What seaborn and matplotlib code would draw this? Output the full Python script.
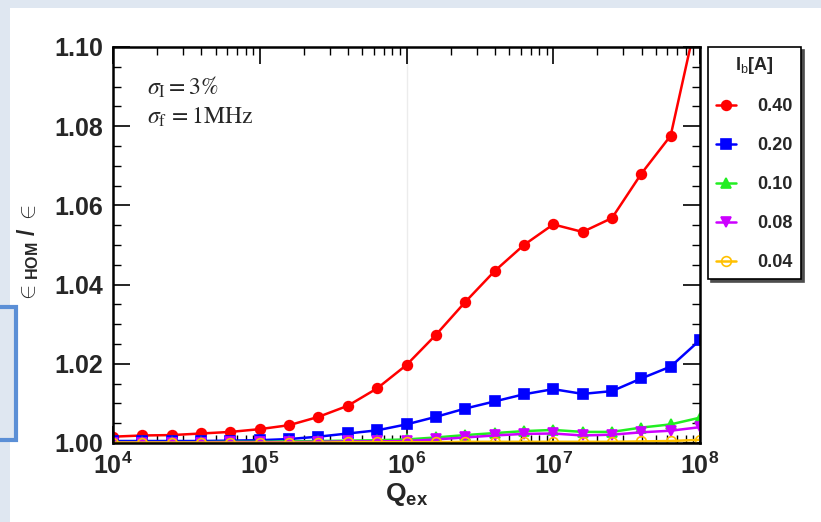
import numpy as np
import pandas as pd
import seaborn as sns
import matplotlib.pyplot as plt
from matplotlib.patches import Rectangle
from matplotlib.ticker import FuncFormatter, MultipleLocator, LogLocator, FixedLocator

# log10 of Q_ex at each point
q_exp = [4.0, 4.2, 4.4, 4.6, 4.8, 5.0, 5.2, 5.4, 5.6, 5.8, 6.0,
         6.2, 6.4, 6.6, 6.8, 7.0, 7.2, 7.4, 7.6, 7.8, 8.0]

eps_040 = [1.0016, 1.0019, 1.0020, 1.0024, 1.0028, 1.0035, 1.0045, 1.0066, 1.0094, 1.0138, 1.0197,
           1.0273, 1.0356, 1.0434, 1.0500, 1.0552, 1.0533, 1.0568, 1.0680, 1.0776, 1.1110]
eps_020 = [1.0005, 1.0005, 1.0005, 1.0005, 1.0006, 1.0007, 1.0010, 1.0016, 1.0024, 1.0032, 1.0047,
           1.0066, 1.0087, 1.0105, 1.0123, 1.0136, 1.0124, 1.0131, 1.0163, 1.0193, 1.0260]
eps_010 = [1.0002, 1.0002, 1.0002, 1.0002, 1.0003, 1.0003, 1.0004, 1.0005, 1.0006, 1.0007, 1.0009,
           1.0014, 1.0020, 1.0025, 1.0030, 1.0033, 1.0028, 1.0028, 1.0039, 1.0047, 1.0064]
eps_008 = [1.0001, 1.0001, 1.0001, 1.0001, 1.0002, 1.0002, 1.0002, 1.0003, 1.0004, 1.0004, 1.0005,
           1.0009, 1.0014, 1.0019, 1.0023, 1.0024, 1.0019, 1.0021, 1.0027, 1.0031, 1.0040]
eps_004 = [1.0001, 1.0001, 1.0001, 1.0001, 1.0001, 1.0001, 1.0001, 1.0001, 1.0002, 1.0002, 1.0002,
           1.0002, 1.0003, 1.0003, 1.0003, 1.0003, 1.0003, 1.0003, 1.0004, 1.0005, 1.0008]

currents = ["0.40", "0.20", "0.10", "0.08", "0.04"]
colors = ["#ff0000", "#0000ff", "#22ee22", "#cc00ff", "#ffc000"]
markers = ["o", "s", "^", "v", "o"]
filled = [True, True, True, True, False]

y_ticks = [1.00, 1.02, 1.04, 1.06, 1.08, 1.10]

q = [10 ** e for e in q_exp]
series = [eps_040, eps_020, eps_010, eps_008, eps_004]

sns.set_theme(style="ticks")
plt.rcParams["font.family"] = ["Liberation Sans", "DejaVu Sans"]
plt.rcParams["mathtext.fontset"] = "custom"
plt.rcParams["mathtext.rm"] = "Liberation Sans"
plt.rcParams["mathtext.bf"] = "Liberation Sans:bold"
plt.rcParams["mathtext.it"] = "Liberation Sans:italic"

fig = plt.figure(figsize=(8.21, 5.22), dpi=100)
bg = "#dfe7f1"
fig.patch.set_facecolor(bg)
fig.add_artist(Rectangle((10 / 821, 0), 1, 1 - 8 / 522, transform=fig.transFigure,
                         facecolor="white", edgecolor="none", zorder=0))
fig.add_artist(Rectangle((-0.02, 1 - 440 / 522), 16 / 821 + 0.02, 133 / 522,
                         transform=fig.transFigure, facecolor=bg, edgecolor="#5b8fd6",
                         lw=3, zorder=1))

ax = fig.add_axes([113 / 821, 1 - 443 / 522, 587 / 821, 396 / 522])
ax.set_facecolor("white")
ax.axvline(1e6, color="#ececec", lw=1, zorder=0)

for lab, vals, c, m, f in zip(currents, series, colors, markers, filled):
    df = pd.DataFrame({"Q": q, "eps": vals})
    sns.lineplot(data=df, x="Q", y="eps", ax=ax, color=c, marker=m, markersize=7,
                 markerfacecolor=c if f else "none", markeredgecolor=c,
                 markeredgewidth=1.2, linewidth=1.8, label=lab, clip_on=True)

ax.set_xscale("log")
ax.set_xlim(1e4, 1e8)
ax.set_ylim(1.0, 1.10)
ax.xaxis.set_major_locator(LogLocator(base=10, numticks=10))
ax.xaxis.set_minor_locator(LogLocator(base=10, subs=np.arange(2, 10), numticks=50))
ax.xaxis.set_major_formatter(FuncFormatter(lambda v, p: r"$\mathbf{10^{%d}}$" % round(np.log10(v))))
ax.yaxis.set_major_locator(FixedLocator(y_ticks))
ax.yaxis.set_minor_locator(MultipleLocator(0.005))
ax.yaxis.set_major_formatter(FuncFormatter(lambda v, p: "%.2f" % v))

ax.tick_params(which="both", direction="in", top=True, right=True, color="black")
ax.tick_params(which="major", length=12, width=1.2, labelsize=18, pad=7)
ax.tick_params(which="minor", length=6, width=1.0)
for t in ax.get_yticklabels() + ax.get_xticklabels():
    t.set_fontweight("bold")
for s in ax.spines.values():
    s.set_linewidth(1.8)
    s.set_color("black")

ax.set_xlabel(r"$\mathbf{Q_{ex}}$", fontsize=19, labelpad=1)
ax.set_ylabel(r"$\in_{\mathbf{HOM}}\ \mathbf{/}\ \in$", fontsize=16.5)
ax.yaxis.set_label_coords(-0.122, 0.48)

ax.text(0.058, 0.899, r"$\sigma_{\rm I} = 3\%$", transform=ax.transAxes, fontsize=17,
        math_fontfamily="stix", va="center")
ax.text(0.058, 0.823, r"$\sigma_{\rm f}\, = 1{\rm MHz}$", transform=ax.transAxes, fontsize=17,
        math_fontfamily="stix", va="center")

leg = ax.legend(title=r"I$_{\rm b}$[A]", loc="upper left",
                bbox_to_anchor=(708 / 821, 1 - 47 / 522), bbox_transform=fig.transFigure,
                frameon=True, fancybox=False, edgecolor="black", framealpha=1,
                prop={"weight": "bold", "size": 13}, title_fontsize=13,
                handlelength=1.1, handletextpad=1.2, labelspacing=1.22, borderpad=0.45,
                borderaxespad=0, shadow={"color": "0.3", "alpha": 1})
leg.get_title().set_fontweight("bold")
leg.get_frame().set_linewidth(1.2)
leg.set_zorder(5)

fig.savefig("out.png", dpi=100, facecolor=fig.get_facecolor())
